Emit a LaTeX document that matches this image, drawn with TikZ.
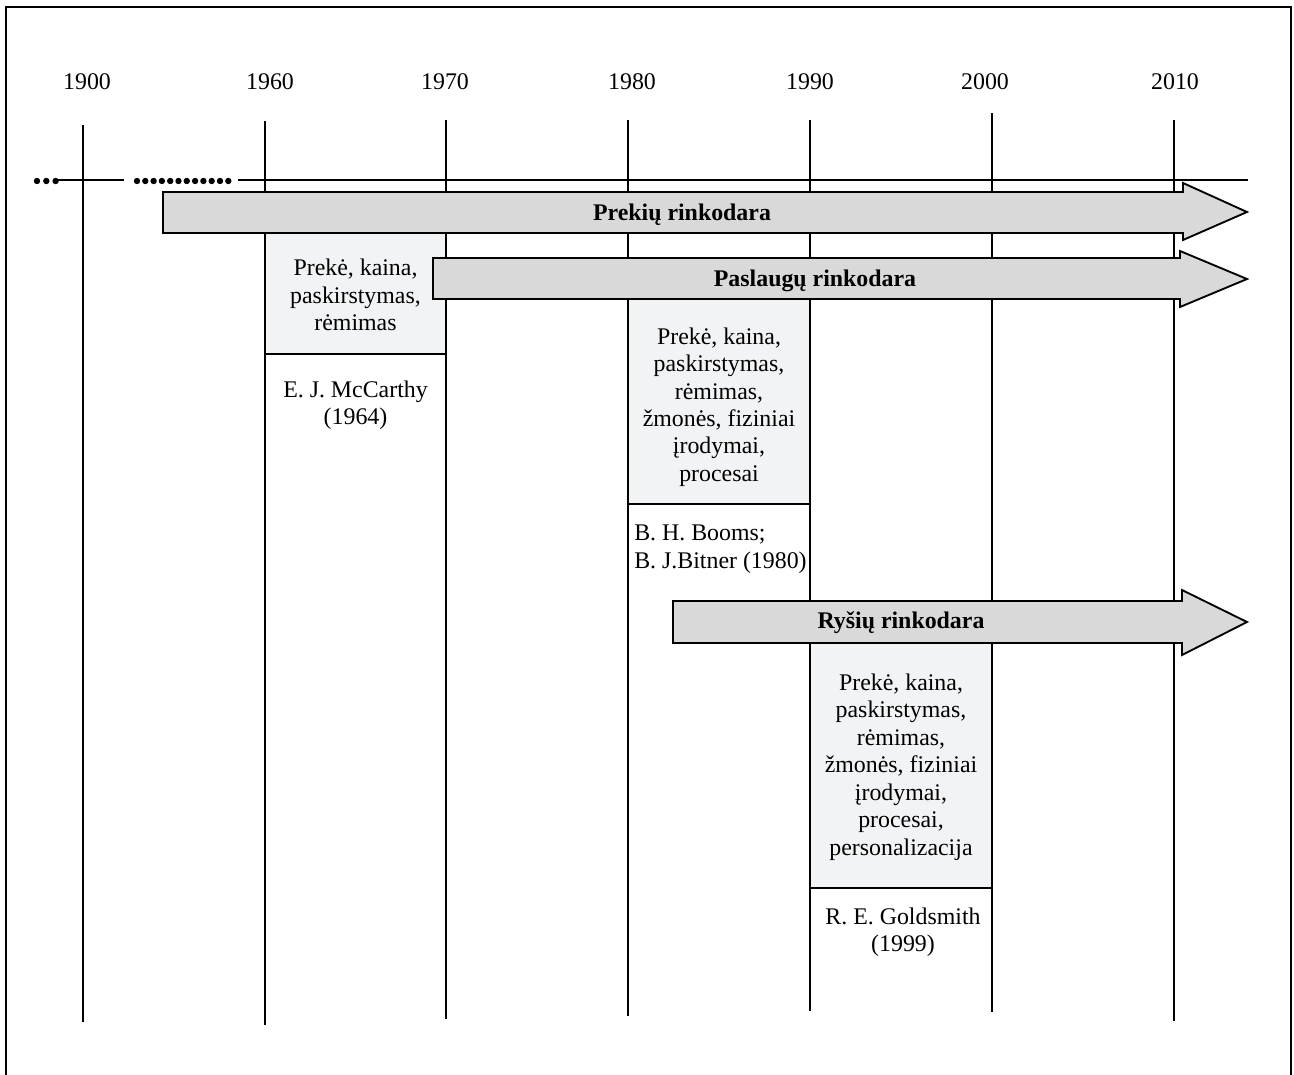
\documentclass[tikz,border=0pt]{standalone}
\usepackage{fontspec}
\setmainfont{Liberation Serif}
\begin{document}
\begin{tikzpicture}[x=0.75pt,y=-0.75pt,
  vline/.style={line width=1.1pt,black},
  bigarrow/.style={draw=black,line width=1.4pt,fill=arrowgray,line join=miter},
  lightbox/.style={fill=boxgray},
  txt/.style={font=\fontsize{17.9}{20.6}\selectfont,align=center,inner sep=0pt},
  btxt/.style={font=\fontsize{17.9}{20.6}\selectfont\bfseries,inner sep=0pt},
  dot/.style={circle,fill=black,inner sep=0pt,minimum size=4.8pt}]
\definecolor{arrowgray}{HTML}{D9D9D9}
\definecolor{boxgray}{HTML}{F2F3F5}
\useasboundingbox (0,0) rectangle (1294,1074);
% frame
\draw[line width=0.8pt] (6,1076) -- (6,7) -- (1291,7) -- (1291,1076);
% year labels
\foreach \x/\y in {87/1900,270/1960,445/1970,632/1980,810/1990,985/2000,1175/2010}
  \node[txt] (y\y) at (\x,82) {\y};
% light boxes (behind lines)
\fill[lightbox] (265,233) rectangle (446,354);
\fill[lightbox] (628,299) rectangle (810,504);
\fill[lightbox] (810,643) rectangle (992,888);
% vertical lines
\draw[vline] (83,125) -- (83,1022);
\draw[vline] (265,121) -- (265,1025);
\draw[vline] (446,120) -- (446,1019);
\draw[vline] (628,120) -- (628,1016);
\draw[vline] (810,120) -- (810,1011);
\draw[vline] (992,113) -- (992,1012);
\draw[vline] (1174,120) -- (1174,1021);
% box bottom lines
\draw[line width=1.3pt] (265,354) -- (446,354);
\draw[line width=1.3pt] (628,504) -- (810,504);
\draw[line width=1.3pt] (810,888) -- (992,888);
% timeline
\draw[vline] (58,180) -- (124,180);
\draw[vline] (238,180) -- (1248,180);
\foreach \i in {0,1,2} \node[dot] (da\i) at (37+9.3*\i,181) {};
\foreach \i in {0,...,11} \node[dot] (db\i) at (137+8.3*\i,181) {};
% arrows
\draw[bigarrow] (163,192) -- (1183,192) -- (1183,183) -- (1247,212) -- (1183,240) -- (1183,233) -- (163,233) -- cycle;
\draw[bigarrow] (433,258) -- (1180,258) -- (1180,251) -- (1247,279) -- (1180,307) -- (1180,299) -- (433,299) -- cycle;
\draw[bigarrow] (673,601) -- (1182,601) -- (1182,590) -- (1247,622) -- (1182,655) -- (1182,643) -- (673,643) -- cycle;
\node[btxt] (a1) at (682,215) {Prekių rinkodara};
\node[btxt] (a2) at (815,281) {Paslaugų rinkodara};
\node[btxt] (a3) at (901,623) {Ryšių rinkodara};
% box texts
\node[txt] (b1) at (355.5,295) {Prekė, kaina,\\paskirstymas,\\rėmimas};
\node[txt] (c1) at (355.5,405) {E. J. McCarthy\\(1964)};
\node[txt] (b2) at (719,407) {Prekė, kaina,\\paskirstymas,\\rėmimas,\\žmonės, fiziniai\\įrodymai,\\procesai};
\node[txt,align=left,anchor=west] (c2) at (634,549) {B. H. Booms;\\B. J.Bitner (1980)};
\node[txt] (b3) at (901,767) {Prekė, kaina,\\paskirstymas,\\rėmimas,\\žmonės, fiziniai\\įrodymai,\\procesai,\\personalizacija};
\node[txt] (c3) at (903,932) {R. E. Goldsmith\\(1999)};
\end{tikzpicture}
\end{document}
